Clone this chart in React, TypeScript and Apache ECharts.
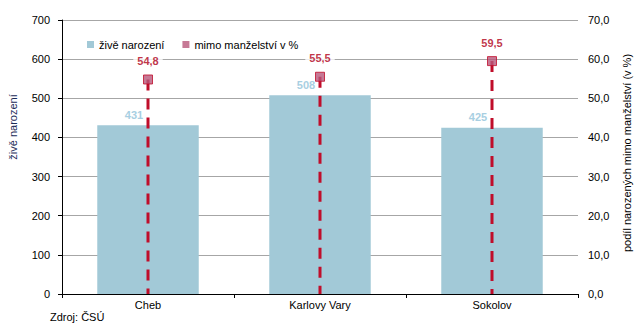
import React, { useEffect, useRef } from "react";
import * as echarts from "echarts";

const categories = ["Cheb", "Karlovy Vary", "Sokolov"];
const births = [431, 508, 425];
const outsideMarriagePct = [54.8, 55.5, 59.5];
const leftTicks = { min: 0, max: 700, interval: 100 };
const rightTicks = { min: 0, max: 70, interval: 10 };

const FONT = "'Liberation Sans', Arial, sans-serif";

export default function App() {
  const ref = useRef<HTMLDivElement>(null);
  useEffect(() => {
    if (!ref.current) return;
    const chart = echarts.init(ref.current, null, { renderer: "svg" });
    const fmtPct = (v: number) => v.toFixed(1).replace(".", ",");
    chart.setOption({
      animation: false,
      textStyle: { fontFamily: FONT },
      grid: { left: 62, right: 61, top: 20, bottom: 31, containLabel: false },
      legend: {
        data: [
          { name: "živě narození" },
          { name: "mimo manželství v %", itemStyle: { borderWidth: 0, color: "#b8577a" } },
        ],
        left: 82,
        top: 34,
        icon: "rect",
        itemWidth: 7,
        itemHeight: 7,
        itemGap: 18,
        textStyle: { fontSize: 11, color: "#000", fontFamily: FONT },
      },
      xAxis: {
        type: "category",
        data: categories,
        axisLine: { lineStyle: { color: "#000", width: 1 } },
        axisTick: { show: true, length: 4, lineStyle: { color: "#000" } },
        axisLabel: { color: "#000", fontSize: 11, margin: 5, fontFamily: FONT },
      },
      yAxis: [
        {
          type: "value",
          min: leftTicks.min,
          max: leftTicks.max,
          interval: leftTicks.interval,
          axisLine: { show: true, lineStyle: { color: "#000" } },
          axisTick: { show: true, length: 4, lineStyle: { color: "#000" } },
          axisLabel: { color: "#000", fontSize: 11, margin: 12, fontFamily: FONT },
          splitLine: { show: true, lineStyle: { color: "#a6a6a6", width: 1 } },
        },
        {
          type: "value",
          min: rightTicks.min,
          max: rightTicks.max,
          interval: rightTicks.interval,
          position: "right",
          axisLine: { show: false },
          axisTick: { show: false },
          axisLabel: {
            color: "#000",
            fontSize: 11,
            margin: 10,
            fontFamily: FONT,
            formatter: (v: number) => fmtPct(v),
          },
          splitLine: { show: false },
        },
      ],
      series: [
        {
          name: "živě narození",
          type: "bar",
          data: births,
          yAxisIndex: 0,
          barCategoryGap: "41%",
          itemStyle: { color: "#a2c9d7" },
          label: {
            show: true,
            position: "top",
            distance: 5,
            offset: [-14, 0],
            color: "#a8cfe2",
            fontWeight: "bold",
            fontSize: 11,
            fontFamily: FONT,
          },
          z: 1,
        },
        {
          name: "drop",
          type: "custom",
          yAxisIndex: 1,
          data: outsideMarriagePct.map((v, i) => [i, v]),
          encode: { x: 0, y: 1 },
          renderItem: (_params: any, api: any) => {
            const top = api.coord([api.value(0), api.value(1)]);
            const base = api.coord([api.value(0), 0]);
            return {
              type: "line",
              shape: { x1: top[0], y1: top[1], x2: base[0], y2: base[1] },
              style: { stroke: "#c00d2a", lineWidth: 3, lineDash: [11, 8] },
            };
          },
          z: 2,
          silent: true,
        },
        {
          name: "mimo manželství v %",
          type: "scatter",
          yAxisIndex: 1,
          data: outsideMarriagePct,
          symbol: "rect",
          symbolSize: 9,
          itemStyle: { color: "#b8577a", borderColor: "#c00d2a", borderWidth: 1 },
          label: {
            show: true,
            position: "top",
            distance: 7,
            color: "#b00018",
            fontWeight: "bold",
            fontSize: 11,
            fontFamily: FONT,
            backgroundColor: "#fff",
            padding: [1, 4],
            textBorderWidth: 0,
            formatter: (p: any) => fmtPct(p.value),
          },
          z: 3,
        },
      ],
      graphic: [
        {
          type: "text",
          left: 50,
          top: 311,
          style: { text: "Zdroj: ČSÚ", fontSize: 11, fill: "#000", fontFamily: FONT },
        },
        {
          type: "text",
          x: 13,
          y: 127,
          rotation: Math.PI / 2,
          style: {
            text: "živě narození",
            fontSize: 11,
            fill: "#1b2a57",
            fontFamily: FONT,
            align: "center",
            verticalAlign: "middle",
          },
        },
        {
          type: "text",
          x: 627,
          y: 153,
          rotation: Math.PI / 2,
          style: {
            text: "podíl narozených mimo manželství (v %)",
            fontSize: 11,
            fill: "#000",
            fontFamily: FONT,
            align: "center",
            verticalAlign: "middle",
          },
        },
      ],
    });
    return () => chart.dispose();
  }, []);
  return (
    <div
      ref={ref}
      style={{ position: "absolute", left: 0, top: 0, width: 639, height: 325, background: "#fff" }}
    />
  );
}
